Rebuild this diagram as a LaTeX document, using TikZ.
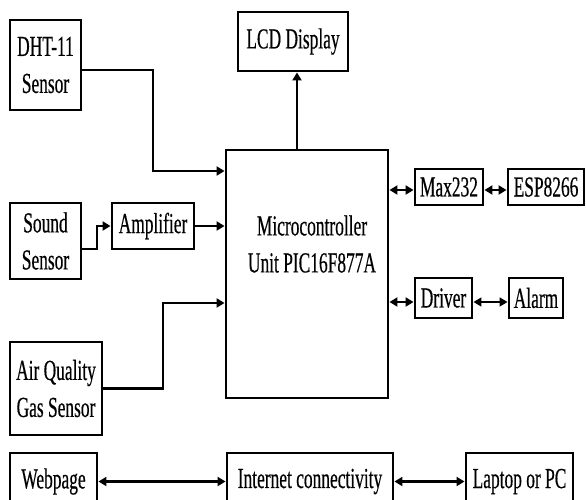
\documentclass[tikz,border=0pt]{standalone}
\usepackage{fontspec}
\setmainfont[FakeStretch=0.6,FakeBold=0.4]{Liberation Serif}
\usetikzlibrary{arrows.meta}
\begin{document}
\begin{tikzpicture}[x=1pt,y=-1pt,
  box/.style={draw, line width=2.9pt, inner sep=0pt, align=center, font=\fontsize{29}{37}\selectfont},
  txt/.style={inner sep=0pt, align=center, font=\fontsize{29}{37}\selectfont},
  con/.style={line width=2.9pt},
  arr/.style={con, -{Triangle[length=8pt,width=9pt]}},
  darr/.style={con, {Triangle[length=8pt,width=9pt]}-{Triangle[length=8pt,width=9pt]}},
  tdarr/.style={line width=1.6pt, {Triangle[length=8pt,width=9pt]}-{Triangle[length=8pt,width=9pt]}}]
\useasboundingbox (0,0) rectangle (586,499);
% boxes
\node[box, minimum width=71pt, minimum height=90pt] (dht) at (45.5,65) {DHT-11\\Sensor};
\node[box, minimum width=110pt, minimum height=59pt] (lcd) at (293,41.5) {LCD Display};
\node[box, minimum width=71pt, minimum height=76pt] (snd) at (45.5,241) {Sound\\Sensor};
\node[box, minimum width=82pt, minimum height=46pt] (amp) at (153,226) {Amplifier};
\node[box, minimum width=92pt, minimum height=93pt] (air) at (56,388.5) {Air Quality\\Gas Sensor};
\node[box, minimum width=162pt, minimum height=248pt] (mcu) at (307,274) {};
\node[txt] (mcut) at (312,244) {Microcontroller\\Unit PIC16F877A};
\node[box, minimum width=68pt, minimum height=36pt] (max) at (449,187) {Max232};
\node[box, minimum width=76pt, minimum height=36pt] (esp) at (546,187) {ESP8266};
\node[box, minimum width=57pt, minimum height=40pt] (drv) at (443.5,298) {Driver};
\node[box, minimum width=54pt, minimum height=40pt] (alm) at (536,298) {Alarm};
\node[box, minimum width=87pt, minimum height=57pt] (web) at (53.5,481.5) {Webpage};
\node[box, minimum width=166pt, minimum height=57pt] (net) at (310,481.5) {Internet connectivity};
\node[box, minimum width=107pt, minimum height=57pt] (lap) at (519.5,481.5) {Laptop or PC};
% connectors
\draw[arr] ([yshift=-5pt]dht.east) -| (153,171) -- (mcu.west |- 0,171);
\draw[arr] ([yshift=-8pt]snd.east) -| (97,226) -- (amp.west);
\draw[arr] (amp.east) -- (amp.east -| mcu.west);
\draw[arr] (air.east) -| (163,303) -- (mcu.west |- 0,303);
\draw[arr] (mcu.north -| 297,0) -- (lcd.south -| 297,0);
\draw[darr] (mcu.east |- 0,190) -- (max.west |- 0,190);
\draw[darr] (max.east |- 0,190) -- (esp.west |- 0,190);
\draw[darr] (mcu.east |- 0,302) -- (drv.west |- 0,302);
\draw[tdarr] (drv.east |- 0,302) -- (alm.west |- 0,302);
\draw[darr] (web.east) -- (net.west);
\draw[darr] (net.east) -- (lap.west);
\end{tikzpicture}
\end{document}
